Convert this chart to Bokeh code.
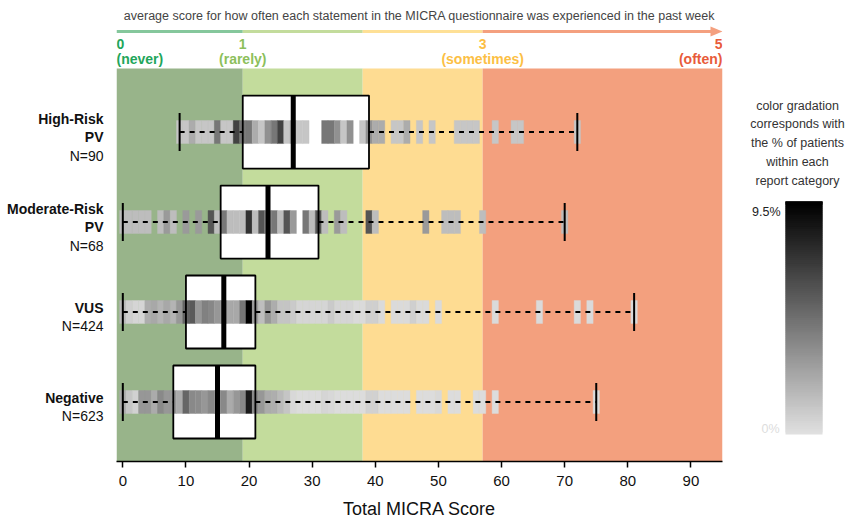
import numpy as np
from bokeh.plotting import figure
from bokeh.models import Range1d, Label, ColumnDataSource, LinearColorMapper, FixedTicker
from bokeh.layouts import row, column
from bokeh.embed import file_html
from bokeh.resources import INLINE

# ---------------- data ----------------
groups = ["Negative", "VUS", "Moderate-Risk PV", "High-Risk PV"]
group_titles = [["Negative"], ["VUS"], ["Moderate-Risk", "PV"], ["High-Risk", "PV"]]
group_n = [623, 424, 68, 90]

whisker_low = [0, 0, 0, 9]
q1 = [8, 10, 15.5, 19]
median = [15, 16, 23, 27]
q3 = [21, 21, 31, 39]
whisker_high = [75, 81, 70, 72]

neg_scores = list(range(0, 46)) + [47, 48, 49, 50, 52, 53, 56, 57, 59, 75]
neg_counts = [14, 7, 4, 19, 19, 14, 23, 19, 19, 14,
              32, 23, 22, 19, 23, 23, 23, 14, 19, 23,
              52, 23, 19, 14, 13, 10, 7, 2, 1, 1,
              1, 1, 3, 2, 1, 1, 1, 1, 1, 4,
              4, 1, 1, 1, 1, 1,
              1, 1, 1, 2, 1, 1, 1, 1, 1, 1]

vus_scores = list(range(0, 42)) + [43, 44, 45, 46, 47, 48, 50, 59, 66, 72, 74, 81]
vus_counts = [7, 3, 2, 2, 9, 10, 8, 10, 8, 13,
              22, 24, 13, 17, 16, 13, 14, 10, 10, 19,
              40, 12, 6, 13, 9, 5, 5, 4, 2, 2,
              2, 2, 2, 4, 2, 2, 2, 1, 1, 3,
              3, 1,
              1, 1, 1, 3, 1, 1, 1, 1, 1, 1, 1, 1]

mr_scores = [0, 1, 2, 3, 4, 6, 7, 8, 10, 12,
             14, 15, 16, 17, 18, 19, 20, 21, 22, 23, 24, 25, 26, 27,
             29, 30, 31, 32, 34, 35, 39, 40, 48, 51, 52, 53, 57, 70]
mr_counts = [1, 1, 1, 1, 1, 1, 2, 1, 2, 2,
             4, 1, 3, 1, 1, 1, 5, 1, 4, 2, 3, 1, 4, 2,
             3, 1, 4, 1, 2, 1, 4, 1, 2, 1, 1, 1, 1, 1]

hr_scores = [9, 10, 11, 12, 13, 14, 15, 16, 17, 18, 19, 20, 21, 22, 23, 24, 25, 26, 27, 28, 29,
             32, 33, 34, 35, 36, 38, 39, 40, 41, 43, 44, 45, 47, 49, 53, 54, 55, 56, 59, 62, 63, 72]
hr_counts = [1, 1, 2, 1, 1, 1, 4, 1, 1, 6, 4, 4, 2, 1, 3, 4, 6, 1, 2, 1, 1,
             4, 4, 3, 1, 3, 1, 3, 2, 2, 1, 1, 2, 1, 1, 1, 1, 1, 1, 1, 1, 1, 1]

zone_edges = [19, 38, 57, 95]
zone_colors = ["#98b48a", "#c3dc9c", "#fedc92", "#f3a07e"]
arrow_colors = ["#85c79c", "#c3dc9c", "#fee096", "#f4a07f"]

scale_values = ["0", "1", "3", "5"]
scale_words = ["(never)", "(rarely)", "(sometimes)", "(often)"]
scale_colors = ["#1fa65b", "#8cbf5b", "#fcbf45", "#e85b3a"]

x_ticks = [0, 10, 20, 30, 40, 50, 60, 70, 80, 90]
pct_max = 9.5

FONT = "Liberation Sans"

# ---------------- geometry ----------------
X_LO, X_HI = -1, 95
PX_PER_ROW = 90.0
BOX_H = 73 / PX_PER_ROW
STRIP_H = 23 / PX_PER_ROW
CAP_H = 38 / PX_PER_ROW
LEFT_W = 116
FRAME_W = 606
RIGHT_B = 14
HH = 68
MH = 453
BOTTOM_B = 60

palette = ["#%02x%02x%02x" % (g, g, g) for g in np.linspace(224, 0, 256).astype(int)]
mapper = LinearColorMapper(palette=palette, low=0, high=pct_max)

x_range = Range1d(X_LO, X_HI)
y_range = Range1d(-0.661, 3.706)

# ---------------- header ----------------
hdr = figure(width=LEFT_W + FRAME_W + RIGHT_B, height=HH, x_range=x_range, y_range=Range1d(0, HH),
             x_axis_type=None, y_axis_type=None, toolbar_location=None, output_backend="svg",
             min_border_left=LEFT_W, min_border_right=RIGHT_B, min_border_top=0, min_border_bottom=0,
             outline_line_color=None)
hdr.grid.visible = False

hdr.add_layout(Label(x=(X_LO + X_HI) / 2, y=HH - 15,
                     text="average score for how often each statement in the MICRA questionnaire was experienced in the past week",
                     text_align="center", text_baseline="middle", text_font=FONT,
                     text_font_size="12.5px", text_color="#444444"))

seg_starts = [X_LO] + zone_edges[:-1]
seg_ends = zone_edges[:-1] + [X_HI - 1.8]
hdr.segment(x0=seg_starts, x1=seg_ends, y0=HH - 31, y1=HH - 31, line_color=arrow_colors, line_width=3)
hdr.patch(x=[X_HI - 1.9, X_HI, X_HI - 1.9], y=[HH - 26, HH - 31, HH - 36],
          fill_color=arrow_colors[-1], line_color=None)

anchors = [X_LO, zone_edges[0], zone_edges[2], X_HI]
aligns = ["left", "center", "center", "right"]
for v, w, c, a, al in zip(scale_values, scale_words, scale_colors, anchors, aligns):
    hdr.add_layout(Label(x=a, y=HH - 43, text=v, text_align=al, text_baseline="middle", text_font=FONT,
                         text_font_size="14px", text_font_style="bold", text_color=c))
    hdr.add_layout(Label(x=a, y=HH - 58, text=w, text_align=al, text_baseline="middle", text_font=FONT,
                         text_font_size="14px", text_font_style="bold", text_color=c))

# ---------------- group labels (left panel) ----------------
lab = figure(width=LEFT_W, height=MH, x_range=Range1d(0, LEFT_W), y_range=y_range,
             x_axis_type=None, y_axis_type=None, toolbar_location=None, output_backend="svg",
             min_border_left=0, min_border_right=0, min_border_top=0, min_border_bottom=BOTTOM_B,
             outline_line_color=None)
lab.grid.visible = False

SPACING = 18.5
for r, (title_lines, n) in enumerate(zip(group_titles, group_n)):
    lines = title_lines + ["N=%d" % n]
    k = len(lines)
    for i, t in enumerate(lines):
        off_px = -5 + SPACING * ((k - 1) / 2 - i)
        lab.add_layout(Label(x=103, y=r + off_px / PX_PER_ROW, text=t,
                             text_align="right", text_baseline="middle", text_font=FONT,
                             text_font_size="14px",
                             text_font_style="bold" if i < k - 1 else "normal",
                             text_color="#111111"))

# ---------------- main plot ----------------
nrows = len(groups)
rows_y = list(range(nrows))
p = figure(width=FRAME_W + RIGHT_B, height=MH, x_range=x_range, y_range=y_range,
           y_axis_type=None, toolbar_location=None, output_backend="svg",
           min_border_left=0, min_border_right=RIGHT_B, min_border_top=0, min_border_bottom=BOTTOM_B,
           outline_line_color=None)
p.grid.visible = False

# zones
p.quad(left=[X_LO] + zone_edges[:-1], right=zone_edges, bottom=-2, top=6,
       fill_color=zone_colors, line_color=None)

# box fill
box_b = [y - BOX_H / 2 for y in rows_y]
box_t = [y + BOX_H / 2 for y in rows_y]
p.quad(left=q1, right=q3, bottom=box_b, top=box_t, fill_color="white", line_color=None)

# heat strips
xs, ys, pcts = [], [], []
for r, (sc, ct, n) in enumerate(zip([neg_scores, vus_scores, mr_scores, hr_scores],
                                    [neg_counts, vus_counts, mr_counts, hr_counts], group_n)):
    for s, c in zip(sc, ct):
        xs.append(s)
        ys.append(r)
        pcts.append(min(100.0 * c / n, pct_max))
src = ColumnDataSource(dict(x=xs, y=ys, pct=pcts))
p.rect(x="x", y="y", width=1, height=STRIP_H, source=src,
       fill_color={"field": "pct", "transform": mapper},
       line_color={"field": "pct", "transform": mapper}, line_width=0.4)

# whiskers
p.segment(x0=whisker_low, x1=q1, y0=rows_y, y1=rows_y, line_color="black", line_width=2, line_dash="5 5")
p.segment(x0=q3, x1=whisker_high, y0=rows_y, y1=rows_y, line_color="black", line_width=2, line_dash="5 5")
for xv in (whisker_low, whisker_high):
    p.segment(x0=xv, x1=xv, y0=[y - CAP_H / 2 for y in rows_y], y1=[y + CAP_H / 2 for y in rows_y],
              line_color="black", line_width=2)

# box outline and median
p.quad(left=q1, right=q3, bottom=box_b, top=box_t, fill_color=None, line_color="black", line_width=1.8)
p.segment(x0=median, x1=median, y0=box_b, y1=box_t, line_color="black", line_width=5)

# axis
p.xaxis.ticker = FixedTicker(ticks=x_ticks)
p.xaxis.minor_tick_line_color = None
p.xaxis.major_tick_in = 0
p.xaxis.major_tick_out = 6
p.xaxis.major_tick_line_width = 1.5
p.xaxis.axis_line_width = 1.5
p.xaxis.axis_line_color = "black"
p.xaxis.major_tick_line_color = "black"
p.xaxis.major_label_text_font = FONT
p.xaxis.major_label_text_font_size = "15px"
p.xaxis.major_label_text_color = "#111111"
p.xaxis.major_label_standoff = 8
p.xaxis.axis_label = "Total MICRA Score"
p.xaxis.axis_label_text_font = FONT
p.xaxis.axis_label_text_font_size = "18px"
p.xaxis.axis_label_text_font_style = "normal"
p.xaxis.axis_label_text_color = "#111111"
p.xaxis.axis_label_standoff = 10

# ---------------- legend ----------------
LW, LH = 845 - (LEFT_W + FRAME_W + RIGHT_B), HH + MH
leg = figure(width=LW, height=LH, x_range=Range1d(0, LW), y_range=Range1d(0, LH),
             x_axis_type=None, y_axis_type=None, toolbar_location=None, output_backend="svg",
             min_border=0, outline_line_color=None)
leg.grid.visible = False

legend_lines = ["color gradation", "corresponds with", "the % of patients", "within each", "report category"]
for i, t in enumerate(legend_lines):
    leg.add_layout(Label(x=61, y=LH - 105 - 18.8 * i, text=t, text_align="center", text_baseline="middle",
                         text_font=FONT, text_font_size="12.5px", text_color="#333333"))

grad_vals = np.linspace(0, pct_max, 120)
bar_bottom, bar_top = LH - 434, LH - 201
step = (bar_top - bar_bottom) / len(grad_vals)
idx = np.arange(len(grad_vals))
gsrc = ColumnDataSource(dict(v=grad_vals,
                             b=bar_bottom + step * idx,
                             t=np.minimum(bar_bottom + step * (idx + 2), bar_top)))
leg.quad(left=49, right=86, bottom="b", top="t", source=gsrc,
         fill_color={"field": "v", "transform": mapper}, line_color=None)
leg.quad(left=49, right=86, bottom=bar_top - 3, top=bar_top, fill_color="black", line_color=None)

leg.add_layout(Label(x=44, y=LH - 211, text="9.5%", text_align="right", text_baseline="middle",
                     text_font=FONT, text_font_size="12.5px", text_color="#222222"))
leg.add_layout(Label(x=43, y=LH - 428, text="0%", text_align="right", text_baseline="middle",
                     text_font=FONT, text_font_size="12.5px", text_color="#dddddd"))

layout = row(column(hdr, row(lab, p, spacing=0), spacing=0), leg, spacing=0)

with open("out.html", "w") as f:
    f.write(file_html(layout, INLINE))
